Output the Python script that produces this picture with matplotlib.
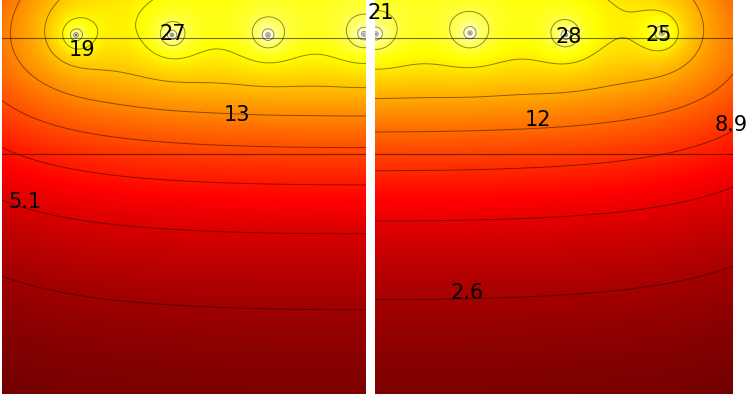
import numpy as np
import matplotlib
matplotlib.use("Agg")
import matplotlib.pyplot as plt
from matplotlib.colors import Normalize

# ---- data: buried line heat sources (positions in m, depth in m) ----
src_x = [0.74, 1.70, 2.66, 3.62, 4.56, 5.52, 6.48]
src_depth = [0.35, 0.35, 0.35, 0.34, 0.33, 0.35, 0.33]
src_strength = [3.0, 3.0, 3.0, 3.0, 3.0, 3.0, 3.0]
core_radius = 0.445

# background (warm upper layer) parameters
bg_offset = -2.7
bg_amp = 21.5
bg_depth_scale = 1.77
bg_exponent = 2.2
edge_drop_top = 0.34
edge_drop_deep = 0.16
edge_len = 1.0
edge_depth_len = 1.0

total_width = 7.19
depth_max = 3.94
left_xlim = (0.0, 3.64)
right_xlim = (3.61, 7.19)

left_levels = [2.31, 5.1, 7.89, 10.68, 13.47, 16.26, 19.05, 21.84, 24.63, 27.42, 30.21]
right_levels = [2.6, 5.74, 8.88, 12.02, 15.16, 18.3, 21.44, 24.58, 27.72, 30.86]

layer_depths = [0.38, 1.54]

left_labels = ["19", "27", "13", "5.1"]
left_label_pos = [(0.80, 0.50), (1.71, 0.34), (2.35, 1.15), (0.23, 2.02)]
right_labels = ["21", "28", "25", "12", "8.9", "2.6"]
right_label_pos = [(3.67, 0.13), (5.55, 0.37), (6.45, 0.35), (5.24, 1.20),
                   (7.17, 1.25), (4.53, 2.93)]

vmin, vmax = -5.0, 27.5


def field(X, Y):
    P = 1.0 / (1.0 + (Y / bg_depth_scale) ** bg_exponent)
    D = edge_drop_deep + (edge_drop_top - edge_drop_deep) * np.exp(-Y / edge_depth_len)
    E = 1.0 - D * (np.exp(-X / edge_len) + np.exp(-(total_width - X) / edge_len))
    T = bg_offset + bg_amp * E * P
    for xs, ds, q in zip(src_x, src_depth, src_strength):
        r2 = (X - xs) ** 2 + (Y - ds) ** 2 + 1e-7
        T = T + q * 0.5 * np.log1p(core_radius ** 2 / r2)
    return T


W, H = 748, 394
fig = plt.figure(figsize=(W / 100, H / 100), dpi=100)
axL = fig.add_axes([2 / W, 0, 364 / W, 1])
axR = fig.add_axes([375 / W, 0, 358 / W, 1])
norm = Normalize(vmin=vmin, vmax=vmax)

for ax, xlim, levels, labels, lpos in [
        (axL, left_xlim, left_levels, left_labels, left_label_pos),
        (axR, right_xlim, right_levels, right_labels, right_label_pos)]:
    xs = np.linspace(xlim[0], xlim[1], 800)
    ys = np.linspace(0, depth_max, 860)
    X, Y = np.meshgrid(xs, ys)
    T = field(X, Y)
    ax.imshow(T, extent=(xlim[0], xlim[1], depth_max, 0), origin="upper",
              cmap="hot", norm=norm, aspect="auto", interpolation="bilinear")
    ax.contour(X, Y, T, levels=levels, colors="k", linewidths=0.7, alpha=0.45)
    for d in layer_depths:
        ax.axhline(d, color="k", lw=0.8, alpha=0.55)
    for txt, (px, py) in zip(labels, lpos):
        ax.text(px, py, txt, ha="center", va="center", fontsize=15,
                color="black", clip_on=False)
    ax.set_xlim(*xlim)
    ax.set_ylim(depth_max, 0)
    ax.axis("off")

fig.savefig("out.png", dpi=100)
